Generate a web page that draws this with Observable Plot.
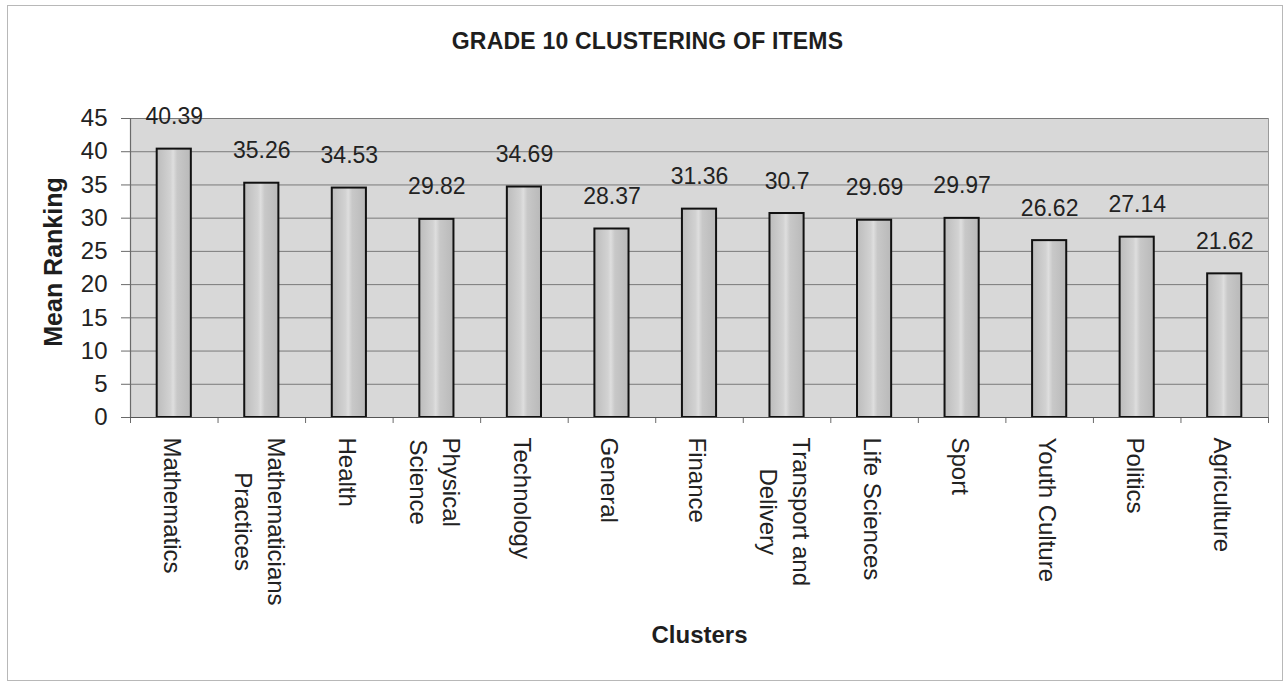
<!DOCTYPE html>
<html>
<head>
<meta charset="utf-8">
<script src="https://cdn.jsdelivr.net/npm/d3@7"></script>
<script src="https://cdn.jsdelivr.net/npm/@observablehq/plot@0.6"></script>
<style>
  html, body { margin: 0; padding: 0; background: #fff; }
  body { width: 1285px; height: 682px; position: relative; overflow: hidden; font-family: "Liberation Sans", Arial, sans-serif; }
  #border { position: absolute; left: 7px; top: 5px; width: 1274px; height: 674px; border: 1px solid #b8b8b8; pointer-events: none; }
  #title { height: 90px; box-sizing: border-box; padding-top: 28px; padding-left: 10px; text-align: center; font-weight: bold; font-size: 23px; color: #1e1e1e; letter-spacing: 0.2px; }
  #chart svg { display: block; }
</style>
</head>
<body>
<div id="border"></div>
<div id="title">GRADE 10 CLUSTERING OF ITEMS</div>
<div id="chart"></div>
<script>
const categories = ["Mathematics", "Mathematicians Practices", "Health", "Physical Science", "Technology", "General", "Finance", "Transport and Delivery", "Life Sciences", "Sport", "Youth Culture", "Politics", "Agriculture"];
const tickLabels = ["Mathematics", "Mathematicians\nPractices", "Health", "Physical\nScience", "Technology", "General", "Finance", "Transport and\nDelivery", "Life Sciences", "Sport", "Youth Culture", "Politics", "Agriculture"];
const values = [40.39, 35.26, 34.53, 29.82, 34.69, 28.37, 31.36, 30.7, 29.69, 29.97, 26.62, 27.14, 21.62];
const yTicks = [0, 5, 10, 15, 20, 25, 30, 35, 40, 45];
const yLabel = "Mean Ranking";
const xLabel = "Clusters";

const data = categories.map((c, i) => ({c, v: values[i], label: tickLabels[i]}));

const W = 1285, H = 592, mL = 130, mR = 17, mT = 28, mB = 265;
const step = (W - mL - mR) / categories.length;

const chart = Plot.plot({
  width: W, height: H,
  marginLeft: mL, marginRight: mR, marginTop: mT, marginBottom: mB,
  style: {fontFamily: "'Liberation Sans', Arial, sans-serif", color: "#222", background: "transparent", overflow: "visible"},
  x: {domain: categories, paddingInner: 0.61, paddingOuter: 0.305, round: false, axis: null},
  y: {domain: [0, 45], axis: null},
  marks: [
    Plot.frame({fill: "#d8d8d8", stroke: "none"}),
    Plot.gridY(yTicks, {stroke: "#7a7a7a", strokeOpacity: 1, strokeWidth: 1}),
    Plot.ruleX([categories[0]], {dx: -step / 2, stroke: "#6a6a6a", strokeWidth: 1.2}),
    Plot.ruleX([categories[categories.length - 1]], {dx: step / 2, stroke: "#9a9a9a"}),
    Plot.axisY(yTicks, {tickSize: 9, tickPadding: 14, fontSize: 24, stroke: "#6a6a6a", label: null, fill: "#222"}),
    Plot.axisX({tickSize: 6, tickFormat: () => "", dx: -step / 2, stroke: "#6a6a6a", label: null}),
    Plot.axisX([categories[categories.length - 1]], {tickSize: 6, tickFormat: () => "", dx: step / 2, stroke: "#6a6a6a", label: null}),
    Plot.barY(data, {x: "c", y: "v", fill: "url(#barGrad)", stroke: "#111", strokeWidth: 2}),
    Plot.ruleY([0], {stroke: "#555", strokeWidth: 1.2}),
    Plot.text(data, {x: "c", y: "v", text: d => String(d.v), dy: -25, lineAnchor: "bottom", fontSize: 23, fill: "#222"}),
    Plot.text(data, {x: "c", text: "label", frameAnchor: "bottom", rotate: 90, textAnchor: "start", lineAnchor: "middle", dy: 20, lineHeight: 1.38, fontSize: 24, fill: "#222"}),
    Plot.text([yLabel], {frameAnchor: "left", rotate: -90, dx: -77, dy: -6, fontSize: 25, fontWeight: "bold", textAnchor: "middle", lineAnchor: "middle", fill: "#1e1e1e", style: "letter-spacing:1px"}),
    Plot.text([xLabel], {frameAnchor: "bottom", dy: 218, fontSize: 24, fontWeight: "bold", textAnchor: "middle", lineAnchor: "middle", fill: "#1e1e1e", style: "letter-spacing:1px"})
  ]
});

// gradient definition for bars
const ns = "http://www.w3.org/2000/svg";
const defs = document.createElementNS(ns, "defs");
defs.innerHTML = `<linearGradient id="barGrad" x1="0" x2="1" y1="0" y2="0">
  <stop offset="0%" stop-color="#bcbcbc"/>
  <stop offset="40%" stop-color="#d2d2d2"/>
  <stop offset="48%" stop-color="#dedede"/>
  <stop offset="60%" stop-color="#c8c8c8"/>
  <stop offset="100%" stop-color="#b9b9b9"/>
</linearGradient>`;
chart.insertBefore(defs, chart.firstChild);

document.getElementById("chart").appendChild(chart);

// center the lines of multi-line tick labels relative to each other
chart.querySelectorAll("text").forEach(t => {
  const spans = t.querySelectorAll("tspan");
  if (spans.length > 1) {
    let m = 0;
    spans.forEach(s => { m = Math.max(m, s.getComputedTextLength()); });
    t.setAttribute("text-anchor", "middle");
    spans.forEach(s => s.setAttribute("x", m / 2));
  }
});
</script>
</body>
</html>
